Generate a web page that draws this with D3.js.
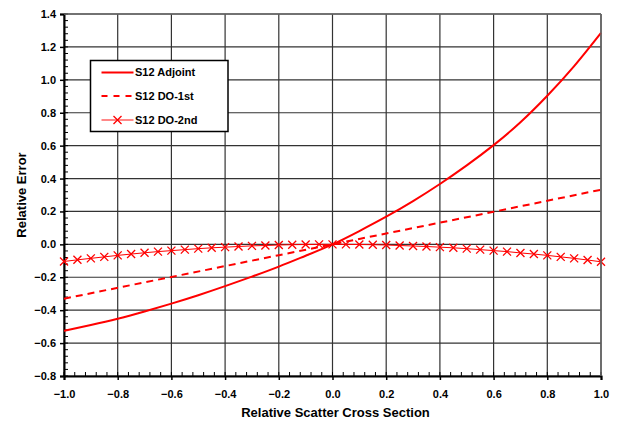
<!DOCTYPE html>
<html>
<head>
<meta charset="utf-8">
<script src="https://cdn.jsdelivr.net/npm/d3@7"></script>
<style>
  html, body { margin: 0; padding: 0; background: #fff; }
  svg { display: block; }
  text { font-family: "Liberation Sans", Arial, sans-serif; font-weight: bold; fill: #000; }
</style>
</head>
<body>
<svg id="chart" width="617" height="422"></svg>
<script>
// ---- Data ----
const xTicks = [-1.0, -0.8, -0.6, -0.4, -0.2, 0.0, 0.2, 0.4, 0.6, 0.8, 1.0];
const yTicks = [-0.8, -0.6, -0.4, -0.2, 0.0, 0.2, 0.4, 0.6, 0.8, 1.0, 1.2, 1.4];

const adjointX = [-1.0, -0.9, -0.8, -0.7, -0.6, -0.5, -0.4, -0.3, -0.2, -0.1, 0.0,
                   0.1, 0.2, 0.3, 0.4, 0.5, 0.6, 0.7, 0.8, 0.9, 1.0];
const adjointY = [-0.525, -0.490, -0.452, -0.408, -0.360, -0.309, -0.254, -0.196, -0.135, -0.069, 0.0,
                   0.081, 0.168, 0.263, 0.367, 0.480, 0.603, 0.742, 0.903, 1.083, 1.285];

const do1X = [-1.0, -0.6, -0.2, 0.0, 0.2, 0.6, 1.0];
const do1Y = [-0.330, -0.198, -0.066, 0.0, 0.066, 0.198, 0.332];

const do2X = [-1.00, -0.95, -0.90, -0.85, -0.80, -0.75, -0.70, -0.65, -0.60, -0.55, -0.50,
              -0.45, -0.40, -0.35, -0.30, -0.25, -0.20, -0.15, -0.10, -0.05, 0.00,
               0.05, 0.10, 0.15, 0.20, 0.25, 0.30, 0.35, 0.40, 0.45, 0.50,
               0.55, 0.60, 0.65, 0.70, 0.75, 0.80, 0.85, 0.90, 0.95, 1.00];
const do2Y = [-0.104, -0.094, -0.085, -0.076, -0.067, -0.059, -0.051, -0.044, -0.038, -0.032, -0.026,
              -0.021, -0.017, -0.013, -0.009, -0.007, -0.004, -0.002, -0.001, 0.000, 0.000,
               0.000, -0.001, -0.002, -0.004, -0.007, -0.010, -0.013, -0.017, -0.021, -0.026,
              -0.032, -0.038, -0.044, -0.052, -0.059, -0.067, -0.076, -0.085, -0.095, -0.106];

const seriesNames = ["S12 Adjoint", "S12 DO-1st", "S12 DO-2nd"];
const xTitle = "Relative Scatter Cross Section";
const yTitle = "Relative Error";

// ---- Layout ----
const svg = d3.select("#chart");
const L = 64, R = 601, T = 14, B = 376;
const x = d3.scaleLinear().domain([-1, 1]).range([L, R]);
const y = d3.scaleLinear().domain([-0.8, 1.4]).range([B, T]);
const red = "#ff0000";

// gridlines
const grid = svg.append("g");
grid.selectAll("line.v").data(xTicks).enter().append("line")
  .attr("x1", d => x(d)).attr("x2", d => x(d)).attr("y1", T).attr("y2", B)
  .attr("stroke", "#333").attr("stroke-width", 1.2);
grid.selectAll("line.h").data(yTicks).enter().append("line")
  .attr("x1", L).attr("x2", R).attr("y1", d => y(d)).attr("y2", d => y(d))
  .attr("stroke", "#333").attr("stroke-width", 1.2);

// minor ticks (inside)
const minorX = d3.range(-1, 1.0001, 0.04).map(v => +v.toFixed(2));
const minorY = d3.range(-0.8, 1.4001, 0.04).map(v => +v.toFixed(2));
svg.append("g").selectAll("line").data(minorX).enter().append("line")
  .attr("x1", d => x(d)).attr("x2", d => x(d)).attr("y1", B).attr("y2", B - 4)
  .attr("stroke", "#000").attr("stroke-width", 1);
svg.append("g").selectAll("line").data(minorY).enter().append("line")
  .attr("x1", L).attr("x2", L + 4).attr("y1", d => y(d)).attr("y2", d => y(d))
  .attr("stroke", "#000").attr("stroke-width", 1);

// axes
const xAxis = d3.axisBottom(x).tickValues(xTicks).tickFormat(d3.format(".1f")).tickSize(4).tickPadding(8);
const yAxis = d3.axisLeft(y).tickValues(yTicks).tickFormat(d3.format(".1f")).tickSize(4).tickPadding(4);
const gx = svg.append("g").attr("transform", `translate(0,${B})`).call(xAxis);
const gy = svg.append("g").attr("transform", `translate(${L},0)`).call(yAxis);
[gx, gy].forEach(g => {
  g.select(".domain").attr("stroke", "#000").attr("stroke-width", 2);
  g.selectAll(".tick line").attr("stroke", "#000").attr("stroke-width", 1.5);
  g.selectAll(".tick text").style("font-size", "11px").style("font-weight", "bold")
    .style("font-family", "'Liberation Sans', Arial, sans-serif").attr("fill", "#000");
});
gx.selectAll(".tick text").attr("dy", "0.9em");

// curves
svg.append("path").datum(adjointX.map((v, i) => [v, adjointY[i]]))
  .attr("d", d3.line().x(d => x(d[0])).y(d => y(d[1])).curve(d3.curveNatural))
  .attr("fill", "none").attr("stroke", red).attr("stroke-width", 2);
svg.append("path").datum(do1X.map((v, i) => [v, do1Y[i]]))
  .attr("d", d3.line().x(d => x(d[0])).y(d => y(d[1]))).attr("fill", "none")
  .attr("stroke", red).attr("stroke-width", 2).attr("stroke-dasharray", "7,5");
const do2 = do2X.map((v, i) => [v, do2Y[i]]);
svg.append("path").datum(do2)
  .attr("d", d3.line().x(d => x(d[0])).y(d => y(d[1])).curve(d3.curveMonotoneX))
  .attr("fill", "none").attr("stroke", red).attr("stroke-width", 1);
const s = 4;
function xMark(g, cx, cy) {
  g.append("path")
    .attr("d", `M${cx - s},${cy - s}L${cx + s},${cy + s}M${cx - s},${cy + s}L${cx + s},${cy - s}`)
    .attr("stroke", red).attr("stroke-width", 1.3).attr("fill", "none");
}
const mk = svg.append("g");
do2.forEach(d => xMark(mk, x(d[0]), y(d[1])));

// border top/right
svg.append("line").attr("x1", L).attr("x2", R).attr("y1", T).attr("y2", T).attr("stroke", "#666").attr("stroke-width", 1.5);
svg.append("line").attr("x1", R).attr("x2", R).attr("y1", T).attr("y2", B).attr("stroke", "#666").attr("stroke-width", 1.5);

// legend
const lg = svg.append("g");
lg.append("rect").attr("x", 90.5).attr("y", 60.5).attr("width", 137.5).attr("height", 71)
  .attr("fill", "#fff").attr("stroke", "#000").attr("stroke-width", 1.5);
const rows = [72.5, 96, 120];
const lx1 = 101.5, lx2 = 133.5;
lg.append("line").attr("x1", lx1).attr("x2", lx2).attr("y1", rows[0]).attr("y2", rows[0]).attr("stroke", red).attr("stroke-width", 2);
lg.append("line").attr("x1", lx1).attr("x2", lx2).attr("y1", rows[1]).attr("y2", rows[1]).attr("stroke", red).attr("stroke-width", 2).attr("stroke-dasharray", "6,6");
lg.append("line").attr("x1", lx1).attr("x2", lx2).attr("y1", rows[2]).attr("y2", rows[2]).attr("stroke", "#ff6060").attr("stroke-width", 1.5);
xMark(lg, (lx1 + lx2) / 2, rows[2]);
seriesNames.forEach((n, i) => {
  lg.append("text").attr("x", 135).attr("y", rows[i]).attr("dy", "0.36em")
    .style("font-size", "11px").text(n);
});

// axis titles
svg.append("text").attr("x", (L + R) / 2 + 3).attr("y", 417).attr("text-anchor", "middle")
  .style("font-size", "13px").text(xTitle);
svg.append("text").attr("transform", `translate(26,${(T + B) / 2}) rotate(-90)`)
  .attr("text-anchor", "middle").style("font-size", "13px").text(yTitle);
</script>
</body>
</html>
